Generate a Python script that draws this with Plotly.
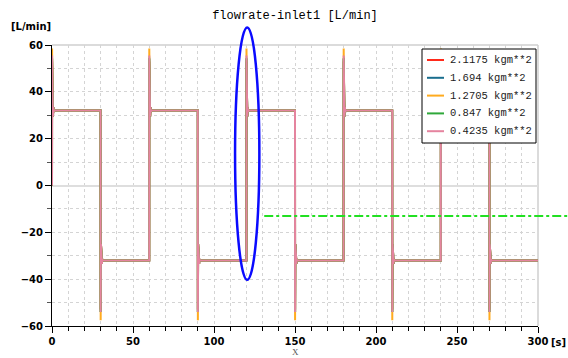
import plotly.graph_objects as go

# ---- data ----
series_names = ["2.1175 kgm**2", "1.694 kgm**2", "1.2705 kgm**2", "0.847 kgm**2", "0.4235 kgm**2"]
series_colors = ["#ff2a1a", "#1a6e8e", "#ffab1f", "#2fa83a", "#e5849f"]
# overshoot spike at each switch, per series
peak_up = [53.0, 54.0, 58.5, 54.5, 55.5]
peak_down = [-53.0, -54.0, -57.5, -54.0, -54.0]

start_level = 0.0
switch_times = [0, 30, 60, 90, 120, 150, 180, 210, 240, 270]
switch_levels = [32.0, -32.0, 32.0, -32.0, 32.0, -32.0, 32.0, -32.0, 32.0, -32.0]
end_time = 300

# damped ringing after each spike: time offsets [s] and deviations from level
ring_dt = [0.2, 0.4, 0.6, 0.8, 1.0, 1.3]
ring_dev = [-7.0, 4.5, -2.5, 1.5, -0.5, 0.0]

x_ticks_major = [0, 50, 100, 150, 200, 250, 300]
y_ticks_major = [-60, -40, -20, 0, 20, 40, 60]

X_RANGE = [0, 300]
Y_RANGE = [-60, 60]

# annotations drawn on the picture (in data units)
ellipse_x = [113, 128]
ellipse_y = [-40.3, 67.5]
dashdot_y = -13
dashdot_x = [131, 318]

# plot-area geometry (pixels)
W, H = 568, 358
ML, MR, MT, MB = 52, 30, 45, 32
PW, PH = W - ML - MR, H - MT - MB


def build_series(pu, pd):
    xs, ys = [0.0], [start_level]
    prev = start_level
    for t, lvl in zip(switch_times, switch_levels):
        up = lvl > prev
        pk = pu if up else pd
        sgn = 1 if up else -1
        xs += [t, t + 0.05]
        ys += [prev, pk]
        for dt, dv in zip(ring_dt, ring_dev):
            xs.append(t + dt)
            ys.append(lvl + sgn * dv)
        prev = lvl
    xs.append(end_time)
    ys.append(prev)
    return xs, ys


fig = go.Figure()
for name, col, pu, pd in zip(series_names, series_colors, peak_up, peak_down):
    xs, ys = build_series(pu, pd)
    fig.add_trace(go.Scatter(x=xs, y=ys, mode="lines", name=name,
                             line=dict(color=col, width=2), showlegend=False))

tickfont = dict(family="DejaVu Sans", size=10, color="black", weight="bold")

fig.update_layout(
    width=W, height=H,
    margin=dict(l=ML, r=MR, t=MT, b=MB),
    paper_bgcolor="white", plot_bgcolor="white",
    title=dict(text="flowrate-inlet1 [L/min]", x=(ML + PW / 2) / W, xanchor="center",
               y=1 - 15 / H, yanchor="middle", yref="container",
               font=dict(family="Liberation Mono", size=12, color="black")),
    showlegend=False,
    xaxis=dict(range=X_RANGE, tickvals=x_ticks_major, ticks="outside", ticklen=6,
               tickcolor="black", tickwidth=1, showline=True, linecolor="black", linewidth=1,
               tickfont=tickfont, showgrid=True, gridcolor="#d4d4d4", griddash="dot",
               zeroline=False,
               minor=dict(dtick=10, ticks="outside", ticklen=4, tickcolor="black",
                          showgrid=True, gridcolor="#d4d4d4", griddash="dot")),
    yaxis=dict(range=Y_RANGE, tickvals=y_ticks_major, ticks="outside", ticklen=6,
               tickcolor="black", tickwidth=1, showline=True, linecolor="black", linewidth=1,
               tickfont=tickfont, showgrid=True, gridcolor="#d4d4d4", griddash="dot",
               zeroline=True, zerolinecolor="#dedede", zerolinewidth=2,
               minor=dict(dtick=10, ticks="outside", ticklen=4, tickcolor="#555",
                          showgrid=True, gridcolor="#d4d4d4", griddash="dot")),
)


def px_(v):
    return (v - X_RANGE[0]) / (X_RANGE[1] - X_RANGE[0])


def py_(v):
    return (v - Y_RANGE[0]) / (Y_RANGE[1] - Y_RANGE[0])


def ppx(p):  # pixel x -> paper
    return (p - ML) / PW


def ppy(p):  # pixel y -> paper
    return (H - MB - p) / PH


# light grey top / right frame
fig.add_shape(type="line", xref="paper", yref="paper", x0=0, x1=1, y0=1, y1=1,
              line=dict(color="#cfcfcf", width=1.5), layer="below")
fig.add_shape(type="line", xref="paper", yref="paper", x0=1, x1=1, y0=0, y1=1,
              line=dict(color="#cfcfcf", width=1.5), layer="below")

# blue ellipse
fig.add_shape(type="circle", xref="paper", yref="paper",
              x0=px_(ellipse_x[0]), x1=px_(ellipse_x[1]),
              y0=py_(ellipse_y[0]), y1=py_(ellipse_y[1]),
              line=dict(color="#0a0aff", width=2.5), layer="above")
# green dash-dot line
fig.add_shape(type="line", xref="paper", yref="paper",
              x0=px_(dashdot_x[0]), x1=px_(dashdot_x[1]),
              y0=py_(dashdot_y), y1=py_(dashdot_y),
              line=dict(color="#22e022", width=2, dash="dashdot"), layer="above")

# legend box (hand-built to match the reference layout)
LX0, LX1, LY0, LY1 = 422, 536, 49, 143
fig.add_shape(type="rect", xref="paper", yref="paper",
              x0=ppx(LX0), x1=ppx(LX1), y0=ppy(LY1), y1=ppy(LY0),
              line=dict(color="black", width=1), fillcolor="white", layer="above")
row0, row_gap = 60, 17.8
for i, (name, col) in enumerate(zip(series_names, series_colors)):
    yy = row0 + i * row_gap
    fig.add_shape(type="line", xref="paper", yref="paper",
                  x0=ppx(427), x1=ppx(444), y0=ppy(yy), y1=ppy(yy),
                  line=dict(color=col, width=2), layer="above")
    fig.add_annotation(text=name, xref="paper", yref="paper", x=ppx(448), y=ppy(yy),
                       xanchor="left", yanchor="middle", showarrow=False,
                       font=dict(family="Liberation Mono", size=10.5, color="#222"))

# unit labels
fig.add_annotation(text="[L/min]", xref="paper", yref="paper", x=ppx(9), y=ppy(27),
                   xanchor="left", yanchor="middle", showarrow=False,
                   font=dict(family="DejaVu Sans", size=10, color="black", weight="bold"))
fig.add_annotation(text="[s]", xref="paper", yref="paper", x=ppx(549), y=ppy(342),
                   xanchor="left", yanchor="middle", showarrow=False,
                   font=dict(family="DejaVu Sans", size=10, color="black", weight="bold"))
fig.add_annotation(text="X", xref="paper", yref="paper", x=px_(150), y=ppy(352),
                   xanchor="center", yanchor="middle", showarrow=False,
                   font=dict(family="Liberation Serif", size=9, color="#555"))

fig.write_html("out.html")
